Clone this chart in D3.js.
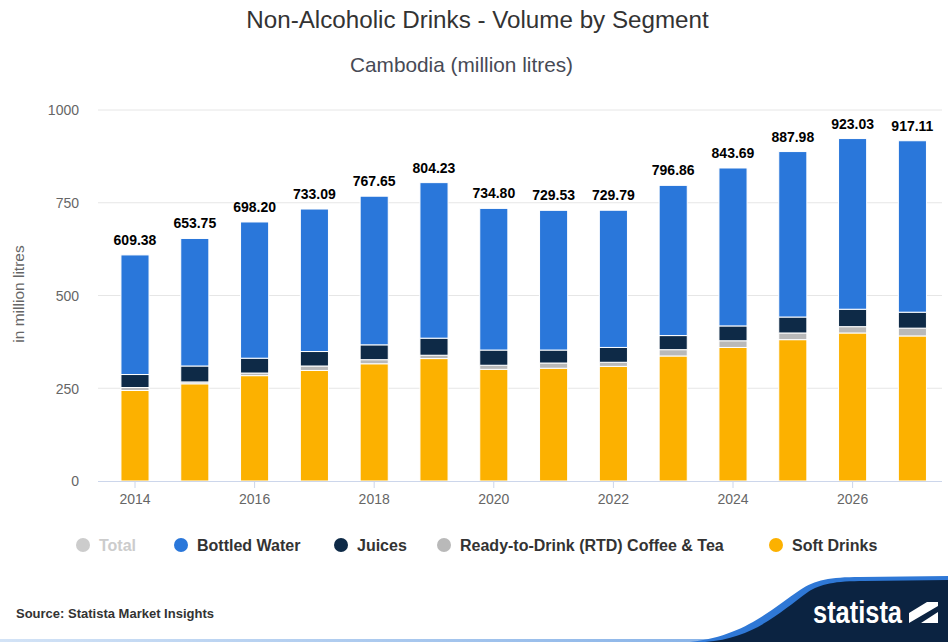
<!DOCTYPE html>
<html><head><meta charset="utf-8">
<script src="https://cdn.jsdelivr.net/npm/d3@7/dist/d3.min.js"></script>
<style>
html,body{margin:0;padding:0;background:#fff;}
svg{display:block;font-family:"Liberation Sans",Arial,Helvetica,sans-serif;}
</style></head>
<body><svg id="chart" width="948" height="642"></svg>
<script>
const years = [2014,2015,2016,2017,2018,2019,2020,2021,2022,2023,2024,2025,2026,2027];
const totals = [609.38,653.75,698.20,733.09,767.65,804.23,734.80,729.53,729.79,796.86,843.69,887.98,923.03,917.11];
const softDrinks = [244,262,284,298,316,330,301,304,309,337,360,381,399,391];
const rtdCoffeeTea = [8,5,7,12,11,9,11,14,11,17,18,18,17,21];
const juices = [35,43,40,39,40,46,41,35,40,38,40,43,47,43];
const bottledWater = totals.map((t,i)=>+(t - softDrinks[i] - rtdCoffeeTea[i] - juices[i]).toFixed(2));
const yTicks = [0,250,500,750,1000];
const xTickYears = [2014,2016,2018,2020,2022,2024,2026];
const seriesNames = ["Soft Drinks","Ready-to-Drink (RTD) Coffee & Tea","Juices","Bottled Water"];
const seriesColors = ["#fcb100","#b9b9b9","#0e2a47","#2a77da"];
const legendItems = [
  {name:"Total", color:"#cccccc", text:"#cccccc", x:83},
  {name:"Bottled Water", color:"#2a77da", text:"#333333", x:181},
  {name:"Juices", color:"#0e2a47", text:"#333333", x:341},
  {name:"Ready-to-Drink (RTD) Coffee & Tea", color:"#b9b9b9", text:"#333333", x:444},
  {name:"Soft Drinks", color:"#fcb100", text:"#333333", x:776}
];

const svg = d3.select("#chart");
const data = years.map((y,i)=>({year:y, "Soft Drinks":softDrinks[i], "Ready-to-Drink (RTD) Coffee & Tea":rtdCoffeeTea[i], "Juices":juices[i], "Bottled Water":bottledWater[i], total:totals[i]}));

const x = d3.scaleBand().domain(years).range([105.1, 942.3]).paddingInner(0.53).paddingOuter(0.265);
const y = d3.scaleLinear().domain([0,1000]).range([481,110]);

// titles
svg.append("text").attr("x",477.5).attr("y",28).attr("text-anchor","middle")
  .attr("font-size",24.2).attr("fill","#333").text("Non-Alcoholic Drinks - Volume by Segment");
svg.append("text").attr("x",461.5).attr("y",72).attr("text-anchor","middle")
  .attr("font-size",20.8).attr("fill","#474a55").text("Cambodia (million litres)");

// grid
svg.append("g").selectAll("line").data(yTicks.filter(d=>d>0)).join("line")
  .attr("x1",98).attr("x2",942).attr("y1",d=>y(d)).attr("y2",d=>y(d))
  .attr("stroke","#e6e6e6").attr("stroke-width",1);

// y axis labels
const yAxis = d3.axisLeft(y).tickValues(yTicks).tickFormat(d3.format("d")).tickSize(0).tickPadding(0);
const gy = svg.append("g").attr("transform","translate(79,0)").call(yAxis);
gy.select(".domain").remove();
gy.selectAll("text").attr("font-size",14).attr("fill","#666").attr("font-family","Liberation Sans, Arial, sans-serif").attr("dy","0.35em");

svg.append("text").attr("transform","translate(24,294) rotate(-90)").attr("text-anchor","middle")
  .attr("font-size",15.5).attr("fill","#666").text("in million litres");

// stacked bars
const stack = d3.stack().keys(seriesNames);
const stacked = stack(data);
svg.append("g").selectAll("g").data(stacked).join("g")
  .attr("fill",(d,i)=>seriesColors[i])
  .selectAll("rect").data(d=>d).join("rect")
  .attr("x",d=>x(d.data.year)).attr("width",x.bandwidth())
  .attr("y",d=>y(d[1])).attr("height",d=>y(d[0])-y(d[1]))
  .attr("stroke","#fff").attr("stroke-width",1);

// x axis
const xAxis = d3.axisBottom(x).tickValues(xTickYears).tickSize(7).tickPadding(6);
const gx = svg.append("g").attr("transform","translate(0,481)").call(xAxis);
gx.select(".domain").attr("d","M98,0.5H942").attr("stroke","#ccd6eb");
gx.selectAll(".tick line").attr("stroke","#ccd6eb");
gx.selectAll("text").attr("font-size",14).attr("fill","#666").attr("font-family","Liberation Sans, Arial, sans-serif");

// value labels
svg.append("g").selectAll("text").data(data).join("text")
  .attr("x",d=>x(d.year)+x.bandwidth()/2).attr("y",d=>y(d.total)-10)
  .attr("text-anchor","middle").attr("font-size",14).attr("font-weight","bold").attr("fill","#000")
  .text(d=>d.total.toFixed(2));

// legend
const lg = svg.append("g").selectAll("g").data(legendItems).join("g")
  .attr("transform",d=>`translate(${d.x},545)`);
lg.append("circle").attr("r",7).attr("fill",d=>d.color);
lg.append("text").attr("x",16).attr("dy","0.36em").attr("font-size",16).attr("font-weight","bold")
  .attr("fill",d=>d.text).text(d=>d.name);

// source
svg.append("text").attr("x",16).attr("y",618).attr("font-size",13).attr("font-weight","bold")
  .attr("fill","#333").text("Source: Statista Market Insights");

// bottom strip and logo
const grad = svg.append("defs").append("linearGradient").attr("id","strip").attr("x1","0").attr("x2","1");
grad.append("stop").attr("offset","0").attr("stop-color","#d3e3f6");
grad.append("stop").attr("offset","1").attr("stop-color","#6fa3e3");
svg.append("rect").attr("x",0).attr("y",639).attr("width",948).attr("height",3).attr("fill","url(#strip)");
svg.append("path").attr("d","M690,642 C745,636 770,610 800,590 C815,580 830,577 860,577 L948,576 L948,642 Z").attr("fill","#2f78d6");
svg.append("path").attr("d","M705,642 C755,638 780,612 808,592 C820,584 835,581 865,581 L948,580 L948,642 Z").attr("fill","#0b2341");
svg.append("text").attr("x",813).attr("y",623).attr("font-size",31).attr("font-weight","bold")
  .attr("fill","#fff").attr("textLength",89).attr("lengthAdjust","spacingAndGlyphs").text("statista");
svg.append("rect").attr("x",909).attr("y",602).attr("width",29).attr("height",21).attr("fill","#fff");
svg.append("path").attr("d","M909,623 L938,606 L938,612 L921,623 Z M909,602 L927,602 L909,613 Z").attr("fill","#0b2341");
</script></body></html>
